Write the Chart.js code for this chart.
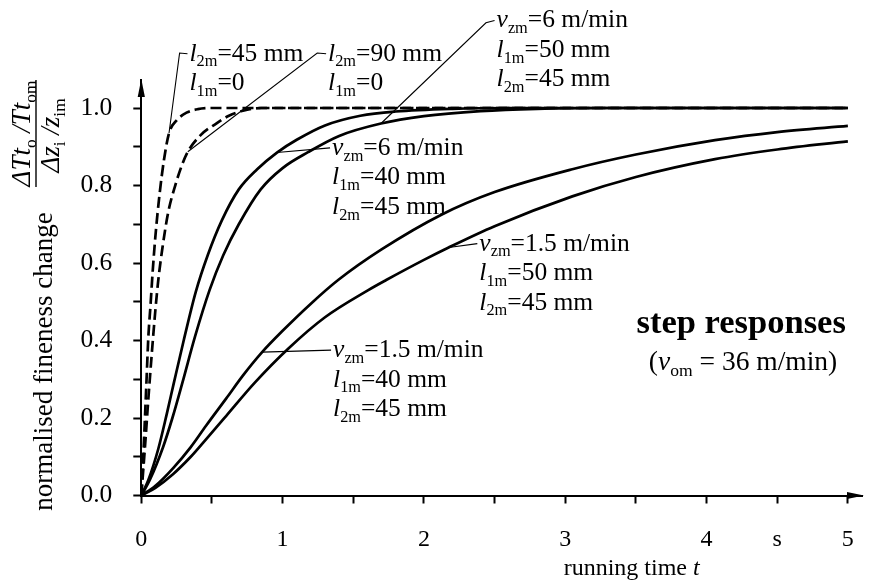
<!DOCTYPE html>
<html><head><meta charset="utf-8">
<script src="https://cdn.jsdelivr.net/npm/chart.js@4.4.1/dist/chart.umd.min.js"></script>
<style>html,body{margin:0;padding:0;background:#fff}#wrap{width:876px;height:580px}</style>
</head><body><div id="wrap"><canvas id="c" width="876" height="580"></canvas></div>
<script>
// ---------- data ----------
// dashed: l2m=45 mm, l1m=0
const tA = [0, 0.01, 0.02, 0.035, 0.05, 0.065, 0.08, 0.1, 0.13, 0.16, 0.196, 0.25, 0.32, 0.4, 0.5, 5];
const vA = [0, 0.07, 0.15, 0.28, 0.41, 0.49, 0.575, 0.67, 0.78, 0.865, 0.935, 0.968, 0.988, 0.997, 1, 1];
// dashed: l2m=90 mm, l1m=0
const tB = [0, 0.025, 0.05, 0.075, 0.1, 0.12, 0.15, 0.19, 0.24, 0.29, 0.329, 0.42, 0.53, 0.62, 0.72, 0.85, 5];
const vB = [0, 0.12, 0.25, 0.37, 0.48, 0.555, 0.64, 0.73, 0.8, 0.855, 0.887, 0.93, 0.96, 0.98, 0.993, 1, 1];
// solid: vzm=6 m/min, l1m=40 mm
const tC = [0, 0.05, 0.12, 0.18, 0.23, 0.3, 0.385, 0.47, 0.57, 0.69, 0.82, 0.96, 1.1, 1.3, 1.55, 1.8, 2.2, 2.6, 5];
const vC = [0, 0.04, 0.12, 0.21, 0.29, 0.4, 0.525, 0.62, 0.71, 0.79, 0.842, 0.885, 0.918, 0.955, 0.98, 0.991, 0.998, 1, 1];
// solid: vzm=6 m/min, l1m=50 mm
const tD = [0, 0.06, 0.155, 0.22, 0.29, 0.38, 0.483, 0.58, 0.69, 0.845, 1.0, 1.18, 1.4, 1.696, 2.0, 2.4, 2.8, 3.3, 5];
const vD = [0, 0.04, 0.126, 0.2, 0.29, 0.41, 0.53, 0.62, 0.7, 0.79, 0.845, 0.886, 0.928, 0.96, 0.979, 0.992, 0.998, 1, 1];
// solid: vzm=1.5 m/min, l1m=40 mm
const tE = [0, 0.1, 0.224, 0.35, 0.458, 0.6, 0.72, 0.855, 1.0, 1.2, 1.393, 1.7, 2.12, 2.5, 3.05, 3.5, 4.06, 4.5, 5];
const vE = [0, 0.025, 0.07, 0.125, 0.18, 0.25, 0.31, 0.37, 0.425, 0.495, 0.556, 0.635, 0.724, 0.783, 0.842, 0.88, 0.917, 0.938, 0.954];
// solid: vzm=1.5 m/min, l1m=50 mm
const tF = [0, 0.1, 0.224, 0.35, 0.458, 0.6, 0.8, 1.043, 1.3, 1.606, 1.733, 2.0, 2.175, 2.5, 3.05, 3.5, 4.06, 4.5, 5];
const vF = [0, 0.02, 0.055, 0.1, 0.145, 0.205, 0.29, 0.38, 0.46, 0.53, 0.556, 0.608, 0.64, 0.695, 0.772, 0.822, 0.868, 0.893, 0.914];

const xTickValues = [0, 0.5, 1, 1.5, 2, 2.5, 3, 3.5, 4, 4.5, 5];
const xTickLabels = ['0', '', '1', '', '2', '', '3', '', '4', 's', '5'];
const yTickValues = [0, 0.1, 0.2, 0.3, 0.4, 0.5, 0.6, 0.7, 0.8, 0.9, 1.0];
const yTickLabels = ['0.0', '', '0.2', '', '0.4', '', '0.6', '', '0.8', '', '1.0'];

// ---------- styles / layout ----------
const FONT = '"Liberation Serif", "Times New Roman", serif';
const ANN_SIZE = 25.5;
const LINE_GAP = 29.5;

function pts(t, v) { return t.map((x, i) => ({ x: x, y: v[i] })); }
function ds(t, v, dashed) {
  return {
    data: pts(t, v), borderColor: '#000', borderWidth: 2.7, pointRadius: 0,
    borderDash: dashed ? [11, 5] : [], cubicInterpolationMode: 'monotone', fill: false
  };
}

function setFont(ctx, st, size) {
  const fs = st.includes('s') ? size * 0.64 : size;
  ctx.font = (st.includes('i') ? 'italic ' : '') + (st.includes('b') ? 'bold ' : '') + fs + 'px ' + FONT;
}
function richWidth(ctx, segs, size) {
  let w = 0;
  for (const [txt, st] of segs) { setFont(ctx, st, size); w += ctx.measureText(txt).width; }
  return w;
}
function drawRich(ctx, x, y, segs, size, align) {
  let cx = x;
  if (align === 'center') cx = x - richWidth(ctx, segs, size) / 2;
  ctx.textAlign = 'left'; ctx.textBaseline = 'alphabetic';
  for (const [txt, st] of segs) {
    setFont(ctx, st, size);
    const dy = st.includes('s') ? size * 0.22 : 0;
    ctx.fillText(txt, cx, y + dy);
    cx += ctx.measureText(txt).width;
  }
}

const L = (a, b) => [['l', 'i'], [a, 's'], [b, 'n']];
const V = (b) => [['v', 'i'], ['zm', 's'], [b, 'n']];
const annotations = [
  { anchor: [0.196, 0.935], elbow: [0.271, 1.142], text: [0.341, 1.122],
    lines: [L('2m', '=45 mm'), L('1m', '=0')] },
  { anchor: [0.329, 0.887], elbow: [1.245, 1.142], text: [1.322, 1.122],
    lines: [L('2m', '=90 mm'), L('1m', '=0')] },
  { anchor: [1.696, 0.96], elbow: [2.439, 1.220], text: [2.514, 1.208],
    lines: [V('=6 m/min'), L('1m', '=50 mm'), L('2m', '=45 mm')] },
  { anchor: [0.96, 0.885], elbow: null, text: [1.35, 0.879],
    lines: [V('=6 m/min'), L('1m', '=40 mm'), L('2m', '=45 mm')] },
  { anchor: [2.175, 0.64], elbow: null, text: [2.392, 0.632],
    lines: [V('=1.5 m/min'), L('1m', '=50 mm'), L('2m', '=45 mm')] },
  { anchor: [0.855, 0.37], elbow: null, text: [1.357, 0.357],
    lines: [V('=1.5 m/min'), L('1m', '=40 mm'), L('2m', '=45 mm')] }
];

const decor = {
  id: 'decor',
  afterDatasetsDraw(chart) {
    const ctx = chart.ctx, xs = chart.scales.x, ys = chart.scales.y, ca = chart.chartArea;
    const X = v => xs.getPixelForValue(v), Y = v => ys.getPixelForValue(v);
    ctx.save();
    ctx.fillStyle = '#000'; ctx.strokeStyle = '#000';
    // axis arrows
    ctx.beginPath();
    ctx.moveTo(ca.left, ca.top - 1); ctx.lineTo(ca.left - 3.6, ca.top + 17); ctx.lineTo(ca.left + 3.6, ca.top + 17); ctx.closePath(); ctx.fill();
    ctx.beginPath();
    ctx.moveTo(ca.right + 1, ca.bottom); ctx.lineTo(ca.right - 16, ca.bottom - 3.4); ctx.lineTo(ca.right - 16, ca.bottom + 3.4); ctx.closePath(); ctx.fill();

    // annotations
    ctx.lineWidth = 1.1;
    for (const a of annotations) {
      const tx = X(a.text[0]), ty = Y(a.text[1]);
      ctx.beginPath();
      ctx.moveTo(X(a.anchor[0]), Y(a.anchor[1]));
      if (a.elbow) ctx.lineTo(X(a.elbow[0]), Y(a.elbow[1]));
      ctx.lineTo(tx - 2, ty - 7);
      ctx.stroke();
      a.lines.forEach((ln, i) => drawRich(ctx, tx, ty + i * LINE_GAP, ln, ANN_SIZE, 'left'));
    }
    // step responses
    drawRich(ctx, X(4.245), Y(0.419), [['step responses', 'b']], 34.5, 'center');
    drawRich(ctx, X(4.258), Y(0.324), [['(', 'n'], ['v', 'i'], ['om', 's'], [' = 36 m/min)', 'n']], 27.5, 'center');

    // x-axis title
    drawRich(ctx, X(3.47), ca.bottom + 79.5, [['running time ', 'n'], ['t', 'i']], 24, 'center');

    // y-axis title (rotated)
    const rot = (x, y, segs, size, align) => {
      ctx.save(); ctx.translate(x, y); ctx.rotate(-Math.PI / 2);
      drawRich(ctx, 0, 0, segs, size, align); ctx.restore();
    };
    rot(52, 361.5, [['normalised fineness change', 'n']], 27, 'center');
    rot(30, 133.5, [['\u0394Tt', 'i'], ['o', 's'], [' /', 'i'], ['Tt', 'i'], ['om', 's']], 27, 'center');
    rot(59, 135.5, [['\u0394z', 'i'], ['i', 's'], [' /', 'i'], ['z', 'i'], ['im', 's']], 27, 'center');
    ctx.lineWidth = 1.4;
    ctx.beginPath(); ctx.moveTo(36, 187); ctx.lineTo(36, 80); ctx.stroke();
    ctx.restore();
  }
};

const axisCommon = {
  type: 'linear',
  grid: { display: true, drawOnChartArea: false, drawTicks: true, tickLength: 8, tickColor: '#000', tickWidth: 2, color: '#000' },
  border: { display: true, color: '#000', width: 2 }
};

new Chart(document.getElementById('c'), {
  type: 'scatter',
  data: { datasets: [ds(tA, vA, true), ds(tB, vB, true), ds(tC, vC), ds(tD, vD), ds(tE, vE), ds(tF, vF)] },
  options: {
    responsive: false, animation: false, devicePixelRatio: 1,
    showLine: true,
    layout: { padding: { left: 0, right: 6, top: 80, bottom: 0 } },
    plugins: { legend: { display: false }, tooltip: { enabled: false } },
    scales: {
      x: Object.assign({}, axisCommon, {
        min: 0, max: 5.107,
        afterBuildTicks: s => { s.ticks = xTickValues.map(v => ({ value: v })); },
        afterFit: s => { s.height = 84.5; },
        ticks: { autoSkip: false, maxRotation: 0, color: '#000', padding: 22,
          font: { family: FONT, size: 24 }, callback: (v, i) => xTickLabels[i] }
      }),
      y: Object.assign({}, axisCommon, {
        min: 0, max: 1.0723,
        afterBuildTicks: s => { s.ticks = yTickValues.map(v => ({ value: v })); },
        afterFit: s => { s.width = 141.3; },
        ticks: { autoSkip: false, color: '#000', padding: 21,
          font: { family: FONT, size: 25.5 }, callback: (v, i) => yTickLabels[i] }
      })
    }
  },
  plugins: [decor]
});
</script>
</body></html>
